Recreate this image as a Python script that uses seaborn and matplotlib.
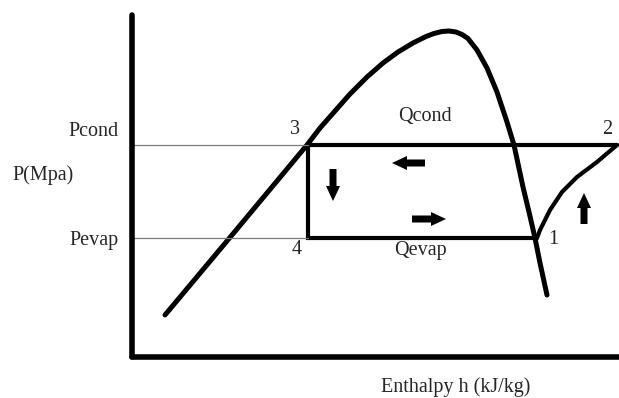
import numpy as np
import pandas as pd
import seaborn as sns
import matplotlib.pyplot as plt

# saturation dome (h, P) in arbitrary chart units
dome_h = [33, 95, 135, 175, 188, 203, 218, 235, 251, 266, 281, 294, 302, 310, 317, 324, 330, 336, 345, 355, 365, 375, 382, 391, 397, 403, 408, 415]
dome_p = [42, 116, 164, 212, 229, 246, 263, 280, 294, 305, 314, 320.5, 323.5, 325.5, 326, 325, 322.5, 318.5, 307, 289, 265, 235, 212, 170, 145, 119, 94, 62]

# cycle states 3 -> 4 -> 1 and 2 -> 3
p_cond = 212
p_evap = 119
h_3 = 176
h_1 = 405
h_2 = 485
cycle_h = [h_2, h_3, h_3, h_1]
cycle_p = [p_cond, p_cond, p_evap, p_evap]

# compression 1 -> 2
comp_h = [405, 408, 418, 430, 445, 465, 485]
comp_p = [119, 127, 147, 165, 180, 195, 212]

sns.set_theme(style="white")
plt.rcParams["font.family"] = ["Liberation Serif", "DejaVu Serif"]

fig = plt.figure(figsize=(6.19, 3.98), dpi=100)
ax = fig.add_axes([132 / 619, 41 / 398, 487 / 619, 342 / 398])

df_dome = pd.DataFrame({"h": dome_h, "P": dome_p})
sns.lineplot(data=df_dome, x="h", y="P", ax=ax, color="black", lw=3.6,
             sort=False, estimator=None, solid_capstyle="round", solid_joinstyle="round")
sns.lineplot(x=cycle_h, y=cycle_p, ax=ax, color="black", lw=3.0,
             sort=False, estimator=None, solid_joinstyle="miter")
sns.lineplot(x=comp_h, y=comp_p, ax=ax, color="black", lw=3.0,
             sort=False, estimator=None, solid_joinstyle="round")

# thin reference lines to the axis
ax.plot([0, h_3], [p_cond, p_cond], color="#7a7a7a", lw=0.9)
ax.plot([0, h_3], [p_evap, p_evap], color="#7a7a7a", lw=0.9)

# flow direction arrows
arr = dict(width=7, head_width=14, head_length=15, length_includes_head=True,
           color="black", lw=0)
ax.arrow(293, 194, -33, 0, **arr)
ax.arrow(280, 138, 34, 0, **arr)
ax.arrow(201, 188, 0, -32, **arr)
ax.arrow(452, 133, 0, 31, **arr)

fs = 14.5
ax.text(163, 228, "3", fontsize=fs, ha="center", va="center")
ax.text(475, 228, "2", fontsize=fs, ha="center", va="center")
ax.text(421, 117, "1", fontsize=fs, ha="center", va="center")
ax.text(165, 108, "4", fontsize=fs, ha="center", va="center")
ax.text(293, 240, "Qcond", fontsize=fs, ha="center", va="center")
ax.text(288, 106, "Qevap", fontsize=fs, ha="center", va="center")

ytr = ax.get_yaxis_transform()
ax.text(-0.027, 225, "Pcond", transform=ytr, fontsize=fs, ha="right", va="center")
ax.text(-0.027, 117, "Pevap", transform=ytr, fontsize=fs, ha="right", va="center")

ax.set_xlim(0, 487)
ax.set_ylim(0, 342)
ax.set_xticks([])
ax.set_yticks([])
ax.set_xlabel("Enthalpy h (kJ/kg)", fontsize=fs)
ax.xaxis.set_label_coords(0.665, -0.088)
ax.xaxis.label.set_va("center")
ax.set_ylabel("P(Mpa)", fontsize=fs, rotation=0)
ax.yaxis.set_label_coords(-0.183, 0.532)
ax.yaxis.label.set_va("center")
ax.yaxis.label.set_ha("center")

sns.despine(ax=ax)
for s in ["left", "bottom"]:
    ax.spines[s].set_color("black")
    ax.spines[s].set_linewidth(4)
    ax.spines[s].set_capstyle("round")

fig.savefig("out.png", dpi=100)
